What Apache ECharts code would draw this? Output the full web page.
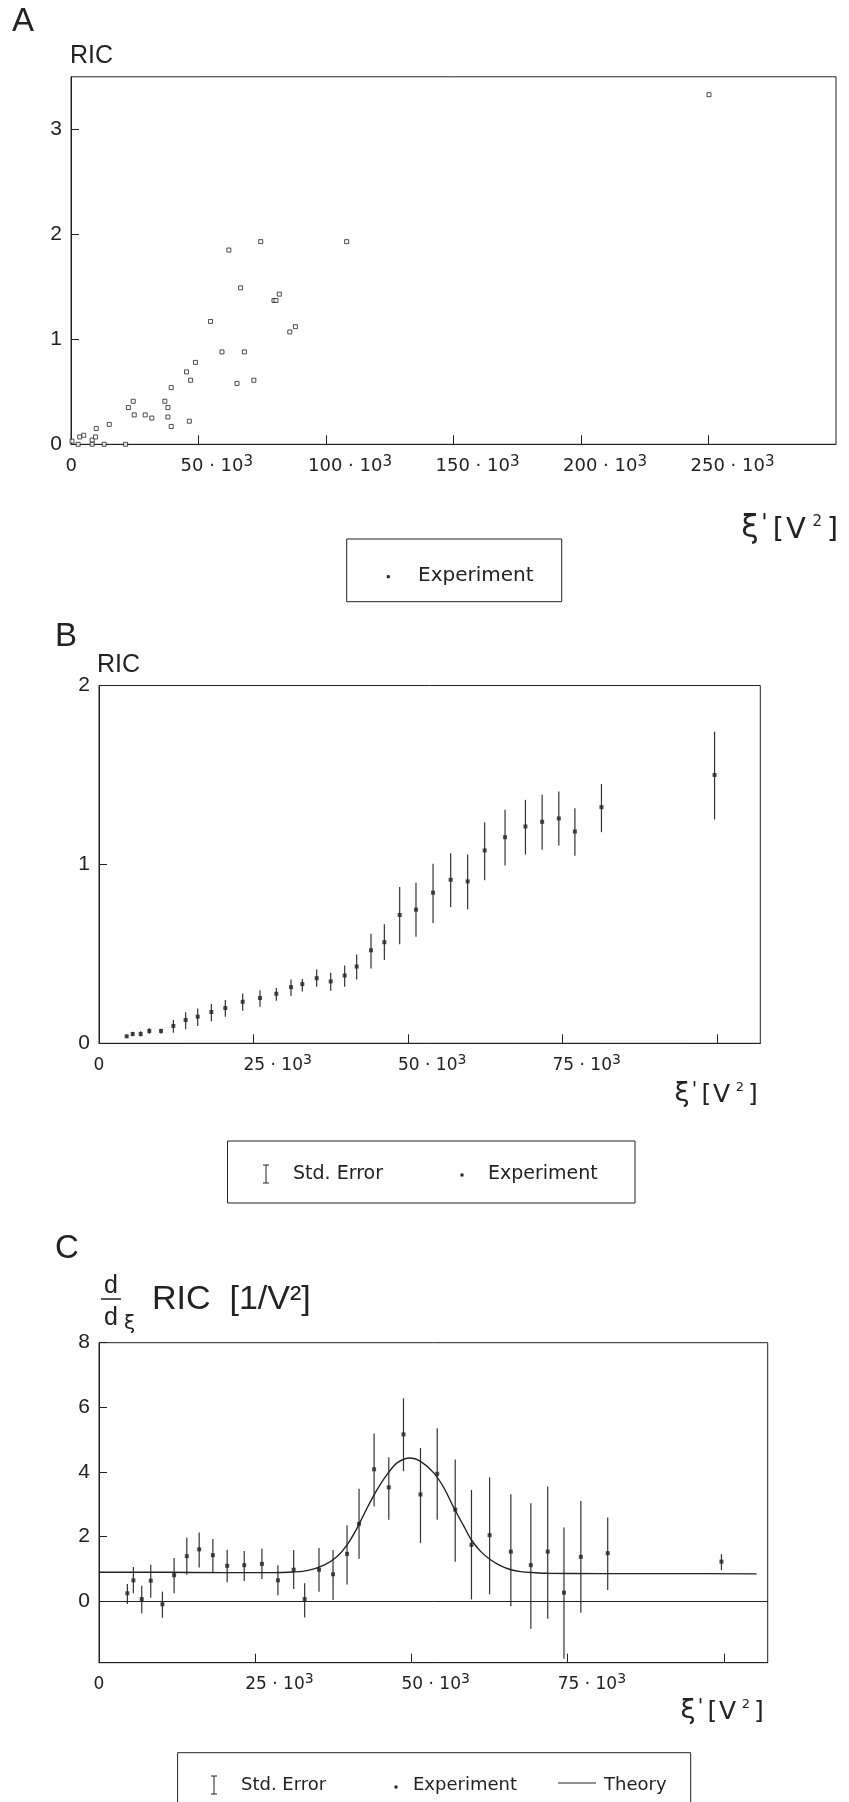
<!DOCTYPE html>
<html><head><meta charset="utf-8">
<script src="https://cdn.jsdelivr.net/npm/echarts@6/dist/echarts.min.js"></script>
<style>html,body{margin:0;padding:0;background:#fff}#c{width:849px;height:1802px}</style>
</head><body><div id="c"></div>
<script>
// ---------- Panel A : RIC vs xi' (experiment points) ----------
const aX = [400, 2800, 3400, 5000, 8300, 8300, 9600, 9900, 13000, 15000, 21400, 22500, 24400, 24800, 29100, 31700, 36800, 38000, 38000, 39300, 39300, 45300, 46400, 46900, 48800, 54700, 59200, 61900, 65100, 66500, 68000, 71700, 74400, 79600, 80400, 81700, 85800, 88000, 108100, 250200];
const aY = [0.03, 0.00, 0.07, 0.086, 0.04, 0.00, 0.07, 0.15, 0.00, 0.19, 0.00, 0.35, 0.41, 0.28, 0.28, 0.25, 0.41, 0.35, 0.26, 0.54, 0.17, 0.69, 0.22, 0.61, 0.78, 1.17, 0.88, 1.85, 0.58, 1.49, 0.88, 0.61, 1.93, 1.37, 1.37, 1.43, 1.07, 1.12, 1.93, 3.33];
const aXTicks = [0, 50000, 100000, 150000, 200000, 250000];
const aXLabels = ['0', '50 · 10^3', '100 · 10^3', '150 · 10^3', '200 · 10^3', '250 · 10^3'];
const aYTicks = [0, 1, 2, 3];

// ---------- Panel B : RIC with std. error ----------
const bX = [4480, 5450, 6740, 8140, 10030, 12030, 14020, 15970, 18180, 20440, 23250, 26050, 28690, 31070, 32900, 35220, 37490, 39750, 41690, 44010, 46170, 48650, 51290, 54050, 56900, 59650, 62400, 65700, 69000, 71700, 74400, 77000, 81300, 99600];
const bY = [0.039, 0.052, 0.052, 0.069, 0.069, 0.097, 0.130, 0.149, 0.175, 0.197, 0.232, 0.253, 0.277, 0.314, 0.331, 0.364, 0.346, 0.379, 0.429, 0.520, 0.565, 0.717, 0.747, 0.842, 0.914, 0.905, 1.078, 1.152, 1.212, 1.238, 1.257, 1.184, 1.320, 1.500];
const bLow = [0.030, 0.040, 0.038, 0.052, 0.054, 0.059, 0.078, 0.097, 0.123, 0.149, 0.182, 0.204, 0.238, 0.264, 0.290, 0.316, 0.294, 0.316, 0.357, 0.418, 0.465, 0.554, 0.595, 0.673, 0.762, 0.749, 0.911, 0.994, 1.056, 1.082, 1.106, 1.048, 1.180, 1.251];
const bHigh = [0.048, 0.064, 0.067, 0.084, 0.082, 0.130, 0.173, 0.195, 0.219, 0.242, 0.279, 0.296, 0.309, 0.357, 0.359, 0.413, 0.394, 0.435, 0.496, 0.613, 0.665, 0.874, 0.898, 1.004, 1.063, 1.056, 1.236, 1.305, 1.361, 1.390, 1.407, 1.314, 1.450, 1.742];
const bcXTicks = [0, 25000, 50000, 75000, 100000];
const bcXLabelVals = [0, 25000, 50000, 75000];
const bcXLabels = ['0', '25 · 10^3', '50 · 10^3', '75 · 10^3'];
const bYTicks = [0, 1, 2];

// ---------- Panel C : d/dxi RIC with std. error and theory ----------
const cX = [4540, 5500, 6840, 8280, 10150, 12020, 14050, 16030, 18220, 20510, 23240, 26070, 28630, 31150, 32910, 35200, 37450, 39690, 41610, 44020, 46370, 48720, 51440, 54120, 57000, 59600, 62500, 65900, 69100, 71800, 74400, 77100, 81400, 99600];
const cY = [0.24, 0.64, 0.06, 0.63, -0.10, 0.80, 1.39, 1.60, 1.42, 1.09, 1.11, 1.15, 0.64, 0.97, 0.06, 0.97, 0.83, 1.46, 2.39, 4.08, 3.52, 5.16, 3.30, 3.94, 2.83, 1.74, 2.04, 1.53, 1.11, 1.53, 0.26, 1.37, 1.48, 1.22];
const cLow = [-0.09, 0.24, -0.38, 0.10, -0.52, 0.24, 0.81, 1.04, 0.89, 0.58, 0.62, 0.68, 0.18, 0.37, -0.51, 0.29, 0.03, 0.51, 1.31, 2.93, 2.52, 4.02, 1.79, 2.52, 1.22, 0.05, 0.21, -0.16, -0.86, -0.55, -1.79, -0.36, 0.34, 0.96];
const cHigh = [0.53, 1.05, 0.47, 1.12, 0.29, 1.33, 1.96, 2.12, 1.92, 1.59, 1.55, 1.63, 1.11, 1.58, 0.55, 1.64, 1.58, 2.35, 3.48, 5.19, 4.45, 6.28, 4.74, 5.35, 4.38, 3.44, 3.83, 3.31, 3.03, 3.55, 2.28, 3.10, 2.59, 1.45];
const theoryX = [0, 10000, 20000, 28000, 31000, 33300, 36000, 38100, 39700, 41300, 42900, 44500, 46100, 47700, 49800, 51400, 53600, 55200, 56800, 58400, 59600, 61100, 62700, 64300, 65900, 67500, 69600, 71700, 80000, 90000, 105200];
const theoryY = [0.89, 0.89, 0.88, 0.88, 0.90, 0.94, 1.11, 1.38, 1.74, 2.26, 2.88, 3.45, 3.92, 4.28, 4.43, 4.33, 3.96, 3.50, 2.88, 2.31, 1.89, 1.53, 1.27, 1.09, 0.97, 0.91, 0.88, 0.86, 0.85, 0.85, 0.84];
const cYTicks = [0, 2, 4, 6, 8];

// ---------- build ----------
const INK = '#222';
const chart = echarts.init(document.getElementById('c'), null, {renderer: 'canvas', width: 849, height: 1802});

function grid(left, top, width, height) {
  return {left, top, width, height, show: true, borderColor: INK, borderWidth: 1,
          backgroundColor: 'transparent', containLabel: false, outerBoundsMode: 'none'};
}
function xAxis(gi, max, tickVals, labelVals, labels, shift, fs, zpad) {
  return {
    type: 'value', gridIndex: gi, min: 0, max,
    axisLine: {show: true, onZero: false, lineStyle: {color: INK, width: 1}},
    axisTick: {show: true, inside: true, length: 9, customValues: tickVals, lineStyle: {color: INK, width: 1}},
    splitLine: {show: false},
    axisLabel: {
      show: true, align: 'left', margin: 10, padding: [0, 0, 0, -shift],
      customValues: labelVals,
      formatter: v => {
        const i = labelVals.indexOf(v);
        if (i < 0) return '';
        const t = labels[i];
        if (t.indexOf('^') < 0) return '{z|' + t + '}';
        const p = t.split('^');
        return '{m|' + p[0] + '}{s|' + p[1] + '}';
      },
      rich: {
        m: {fontSize: fs, fontFamily: 'DejaVu Sans', color: INK, lineHeight: 24},
        s: {fontSize: fs - 3, fontFamily: 'DejaVu Sans', color: INK, verticalAlign: 'top'},
        z: {fontSize: fs, fontFamily: 'DejaVu Sans', color: INK, lineHeight: 24, padding: [0, 0, 0, zpad]}
      }
    }
  };
}
function yAxis(gi, min, max, ticks) {
  return {
    type: 'value', gridIndex: gi, min, max,
    axisLine: {show: true, onZero: false, lineStyle: {color: INK, width: 1}},
    axisTick: {show: true, inside: true, length: 8, customValues: ticks, lineStyle: {color: INK, width: 1}},
    splitLine: {show: false},
    axisLabel: {
      show: true, margin: 9, color: INK, fontSize: 21, fontFamily: 'Liberation Sans',
      customValues: ticks,
      formatter: v => String(v)
    }
  };
}
function errBars(xi, yi, xs, lo, hi) {
  return {
    type: 'custom', xAxisIndex: xi, yAxisIndex: yi, silent: true,
    data: xs.map((x, i) => [x, lo[i], hi[i]]),
    renderItem: (params, api) => {
      const p1 = api.coord([api.value(0), api.value(1)]);
      const p2 = api.coord([api.value(0), api.value(2)]);
      return {type: 'line', shape: {x1: p1[0], y1: p1[1], x2: p2[0], y2: p2[1]},
              style: {stroke: '#333', lineWidth: 1.2}};
    }
  };
}

// graphics (labels, titles, legends)
const G = [];
function txt(x, y, text, size, family, align, extra) {
  align = align || 'left';
  G.push({type: 'text', x, y, silent: true, style: Object.assign({
    text, fontSize: size, fontFamily: family || 'DejaVu Sans', fill: INK,
    align, verticalAlign: 'middle', textAlign: align, textVerticalAlign: 'middle'}, extra || {})});
}
function seg(x1, y1, x2, y2, w) {
  G.push({type: 'line', silent: true, shape: {x1, y1, x2, y2}, style: {stroke: INK, lineWidth: w || 1}});
}
function box(x, y, w, h) {
  G.push({type: 'rect', silent: true, shape: {x, y, width: w, height: h}, style: {fill: 'none', stroke: INK, lineWidth: 1}});
}
function sq(cx, cy, s) {
  s = s || 3;
  G.push({type: 'rect', silent: true, shape: {x: cx - s / 2, y: cy - s / 2, width: s, height: s}, style: {fill: INK}});
}
function ibar(x, cy) {
  seg(x, cy - 9, x, cy + 9); seg(x - 3, cy - 9, x + 3, cy - 9); seg(x - 3, cy + 9, x + 3, cy + 9);
}
function xiTitle(R, Y, k) {
  const parts = [
    {t: 'ξ', dx: -75, dy: -1, fs: 27},
    {t: "'", dx: -62.5, dy: -5, fs: 20},
    {t: '[', dx: -50.5, dy: 0, fs: 25},
    {t: 'V', dx: -35.5, dy: 0, fs: 25},
    {t: '2', dx: -17, dy: -7, fs: 13},
    {t: ']', dx: -4, dy: 0, fs: 25}
  ];
  parts.forEach(p => txt(R + p.dx * k, Y + p.dy * k, p.t, p.fs * k, 'DejaVu Sans', 'center'));
}

// Panel letters and y titles
txt(12, 22, 'A', 33, 'Liberation Sans');
txt(70, 56, 'RIC', 25, 'Liberation Sans');
txt(55, 637, 'B', 33, 'Liberation Sans');
txt(97, 665, 'RIC', 25, 'Liberation Sans');
txt(55, 1249, 'C', 33, 'Liberation Sans');
txt(111, 1286.5, 'd', 25, 'Liberation Sans', 'center');
seg(101, 1299, 121, 1299, 1.5);
txt(111, 1318, 'd', 25, 'Liberation Sans', 'center');
txt(129.5, 1324, 'ξ', 20, 'DejaVu Sans', 'center');
txt(152, 1299.5, 'RIC  [1/V²]', 34, 'Liberation Sans');

// x-axis titles
xiTitle(837, 530, 1.16);
xiTitle(757, 1095, 1.0);
xiTitle(763, 1712, 1.0);

// legends
box(346.7, 539, 215, 62.7);
sq(388.3, 576.7, 3);
txt(418, 575.5, 'Experiment', 20);

box(227.5, 1141, 407.5, 62);
ibar(266, 1174);
txt(293, 1174, 'Std. Error', 19);
sq(462, 1175, 3);
txt(488, 1174, 'Experiment', 19);

box(177.6, 1752.7, 513.1, 70);
ibar(214, 1785);
txt(241, 1785, 'Std. Error', 18);
sq(396, 1787, 3);
txt(413, 1785, 'Experiment', 18);
seg(558, 1783, 596, 1783, 1.2);
txt(604, 1785, 'Theory', 18);

const option = {
  backgroundColor: '#fff',
  animation: false,
  grid: [grid(71, 76.8, 765, 367.5), grid(99, 685.5, 661.3, 357.8), grid(99, 1342.7, 668.7, 320)],
  xAxis: [
    xAxis(0, 300000, aXTicks, aXTicks, aXLabels, 18, 18, 12.5),
    xAxis(1, 107000, bcXTicks, bcXLabelVals, bcXLabels, 10, 17, 4.5),
    xAxis(2, 107000, bcXTicks, bcXLabelVals, bcXLabels, 10, 17, 4.5)
  ],
  yAxis: [
    yAxis(0, 0, 3.5, aYTicks),
    yAxis(1, 0, 2, bYTicks),
    yAxis(2, -1.91, 8, cYTicks)
  ],
  series: [
    {name: 'Experiment A', type: 'scatter', xAxisIndex: 0, yAxisIndex: 0, symbol: 'rect', symbolSize: 4,
     itemStyle: {color: '#fff', borderColor: INK, borderWidth: 1}, silent: true,
     data: aX.map((x, i) => [x, aY[i]])},
    errBars(1, 1, bX, bLow, bHigh),
    {name: 'Experiment B', type: 'scatter', xAxisIndex: 1, yAxisIndex: 1, symbol: 'rect', symbolSize: 4,
     itemStyle: {color: INK}, silent: true, data: bX.map((x, i) => [x, bY[i]])},
    errBars(2, 2, cX, cLow, cHigh),
    {name: 'Experiment C', type: 'scatter', xAxisIndex: 2, yAxisIndex: 2, symbol: 'rect', symbolSize: 4,
     itemStyle: {color: INK}, silent: true, data: cX.map((x, i) => [x, cY[i]])},
    {name: 'Theory', type: 'line', xAxisIndex: 2, yAxisIndex: 2, symbol: 'none', smooth: 0.3, silent: true,
     lineStyle: {color: INK, width: 1.4},
     data: theoryX.map((x, i) => [x, theoryY[i]]),
     markLine: {silent: true, symbol: 'none', label: {show: false},
                lineStyle: {color: INK, width: 1, type: 'solid'}, data: [{yAxis: 0}]}}
  ],
  graphic: G
};
chart.setOption(option);
</script>
</body></html>
